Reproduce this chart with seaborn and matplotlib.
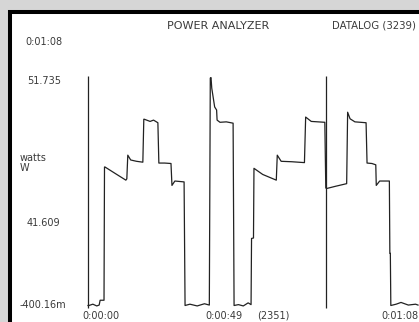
import matplotlib
matplotlib.use("Agg")
import matplotlib.pyplot as plt
import seaborn as sns
import pandas as pd
from matplotlib.patches import Rectangle

# ---- data (time in seconds, power in watts) ----
time_s = [0.0, 0.2, 1.0, 1.8, 2.3, 2.5, 3.3, 3.4, 3.5, 5.5, 7.8, 8.0, 8.2, 8.8, 10.0, 11.3,
          11.5, 11.6, 12.8, 13.5, 14.4, 14.6, 15.8, 17.1, 17.3, 17.9, 19.8, 20.0,
          21.0, 22.5, 24.0, 25.0, 25.2, 25.35, 25.5, 26.1, 26.5, 26.6, 27.2, 28.5, 29.9, 30.1,
          31.0, 32.0, 33.0, 33.6, 33.7, 34.1, 34.2, 36.0, 38.8, 39.0, 39.8, 42.0, 44.6,
          44.85, 46.0, 48.8, 49.0, 49.2, 51.0, 53.3, 53.5, 54.0, 55.0, 57.3,
          57.5, 58.5, 59.3, 59.4, 60.1, 62.1, 62.2, 62.3, 62.4, 63.5, 64.5, 66.0, 67.5, 68.0]
power_w = [-0.4, -0.4, -0.1, -0.5, -0.3, 0.8, 0.8, 31.2, 31.2, 29.8, 28.2, 28.5, 33.9, 32.8, 32.5, 32.3,
           42.1, 42.1, 41.6, 41.9, 41.3, 32.1, 32.1, 32.0, 27.0, 28.0, 27.8, -0.4,
           -0.1, -0.5, 0.0, -0.3, 51.5, 51.6, 49.2, 44.9, 44.2, 41.9, 41.4, 41.5, 41.2, -0.4,
           -0.2, -0.5, 0.2, -0.2, 14.9, 15.0, 30.9, 29.5, 28.2, 33.9, 32.5, 32.4, 32.2,
           42.6, 41.6, 41.4, 26.4, 26.3, 26.8, 27.4, 43.7, 42.2, 41.5, 41.3,
           32.1, 32.0, 31.7, 27.0, 28.0, 28.0, 11.5, 11.5, -0.4, -0.1, 0.3, -0.3, -0.1, -0.3]
cursor_times = [0, 49]
y_labels = ["51.735", "41.609", "-400.16m"]
x_labels = ["0:00:00", "0:00:49", "(2351)", "0:01:08"]
title = "POWER ANALYZER"
datalog = "DATALOG (3239)"
span_label = "0:01:08"
unit_label = "watts\nW"

W, H = 419, 322
fig = plt.figure(figsize=(W / 100, H / 100), dpi=100, facecolor="#d6d6d6")

def fx(x):
    return x / W

def fy(y):
    return 1 - y / H

# white panel with thick black border on top/left
fig.patches.append(Rectangle((fx(9.5), -0.1), 1.2, fy(12) + 0.1, transform=fig.transFigure,
                             facecolor="white", edgecolor="black", linewidth=2.9, zorder=-5))

ax = fig.add_axes([fx(88), fy(305.5), fx(418) - fx(88), fy(77) - fy(305.5)])
ax.set_zorder(2)
ax.set_facecolor("none")
ax.set_axis_off()
ax.set_xlim(0, 68)
ax.set_ylim(-0.4, 51.735)

df = pd.DataFrame({"t": time_s, "w": power_w})
sns.lineplot(data=df, x="t", y="w", ax=ax, sort=False, estimator=None,
             color="#222222", linewidth=0.9)
for line in ax.lines:
    line.set_clip_on(False)
ax.vlines(cursor_times, -0.86, 51.96, color="#222222", linewidth=0.9, clip_on=False)

tc = "#3a3a3a"
fs = 7
fig.text(fx(218), fy(26), title, ha="center", va="center", fontsize=8, color=tc)
fig.text(fx(332), fy(26), datalog, ha="left", va="center", fontsize=7.3, color=tc)
fig.text(fx(25), fy(42), span_label, ha="left", va="center", fontsize=fs, color=tc)
fig.text(fx(27), fy(81), y_labels[0], ha="left", va="center", fontsize=fs, color=tc)
fig.text(fx(20), fy(163), unit_label, ha="left", va="center", fontsize=fs, color=tc,
         linespacing=0.95)
fig.text(fx(27), fy(223), y_labels[1], ha="left", va="center", fontsize=fs, color=tc)
fig.text(fx(20), fy(305), y_labels[2], ha="left", va="center", fontsize=fs, color=tc)
fig.text(fx(82), fy(316), x_labels[0], ha="left", va="center", fontsize=fs, color=tc)
fig.text(fx(205), fy(316), x_labels[1], ha="left", va="center", fontsize=fs, color=tc)
fig.text(fx(257), fy(316), x_labels[2], ha="left", va="center", fontsize=fs, color=tc)
fig.text(fx(418), fy(316), x_labels[3], ha="right", va="center", fontsize=fs, color=tc)

fig.savefig("out.png", dpi=100, facecolor=fig.get_facecolor())
